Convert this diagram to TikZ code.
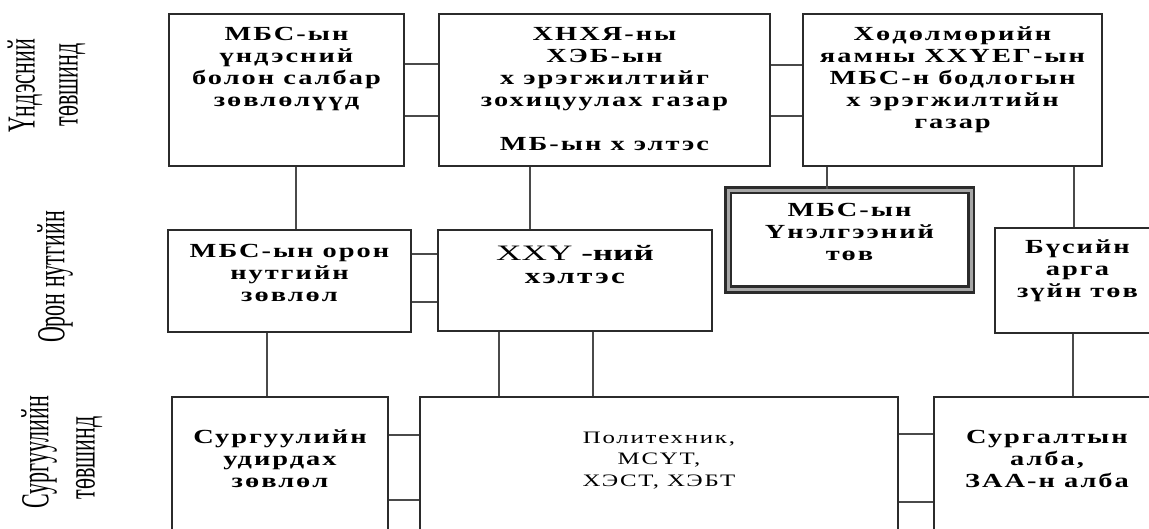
\documentclass[tikz,border=0pt]{standalone}
\usepackage{fontspec}
\newfontfamily\bxfont{Liberation Serif}[FakeStretch=1.42,LetterSpace=10]
\newfontfamily\bxfontn{Liberation Serif}[FakeStretch=1.6]
\newfontfamily\lblfont{Liberation Serif}
\newcommand\bxt[4]{\parbox[c][#2pt][t]{#1pt}{\centering\rule{0pt}{#3pt}#4\par}}
\definecolor{edge}{HTML}{2B2B2B}
\definecolor{conn}{HTML}{4A4A4A}
\tikzset{
  box/.style={draw=edge, line width=2pt, inner sep=0pt, fill=white,
    font=\bxfont\bfseries\fontsize{20}{22}\selectfont},
  dbox/.style={draw=edge, line width=2.6pt, double=gray!70, double distance=3pt,
    inner sep=0pt, fill=white, font=\bxfont\bfseries\fontsize{20}{22}\selectfont},
  lbl/.style={rotate=90, inner sep=0pt, font=\lblfont\fontsize{22}{24}\selectfont},
  cn/.style={draw=conn, line width=1.8pt}
}
\begin{document}
\begin{tikzpicture}[x=1pt,y=-1pt]
\useasboundingbox (0,0) rectangle (1149,528);
\clip (0,0) rectangle (1149,528);
\fill[white] (0,0) rectangle (1149,528);
% level labels
\node[lbl] (l1a) at (25,86) {\scalebox{1}[1.8]{Үндэсний}};
\node[lbl] (l1b) at (72,85) {\scalebox{1}[1.8]{төвшинд}};
\node[lbl] (l2) at (55,277) {\scalebox{1}[1.8]{Орон нутгийн}};
\node[lbl] (l3a) at (39,452) {\scalebox{1}[1.8]{Сургуулийн}};
\node[lbl] (l3b) at (89,458) {\scalebox{1}[1.8]{төвшинд}};
% top row
\node[box] (A) at (286.5,90) {\bxt{235}{152}{26}{МБС-ын\\үндэсний\\болон салбар\\зөвлөлүүд}};
\node[box] (B) at (604.5,90) {\bxt{331}{152}{26}{ХНХЯ-ны\\ХЭБ-ын\\х эрэгжилтийг\\зохицуулах газар\\[22pt]МБ-ын х элтэс}};
\node[box] (C) at (952.5,90) {\bxt{299}{152}{26}{Хөдөлмөрийн\\яамны ХХҮЕГ-ын\\МБС-н бодлогын\\х эрэгжилтийн\\газар}};
% middle row
\node[box] (D) at (289.5,281) {\bxt{243}{102}{27}{МБС-ын орон\\нутгийн\\зөвлөл}};
\node[box] (E) at (575,280.5) {\bxt{274}{101}{30}{{\bxfontn\fontsize{22}{26}\selectfont\mdseries ХХҮ \bfseries-ний}\\[1pt]{\fontsize{22}{24}\selectfont хэлтэс}}};
\node[dbox] (U) at (849.5,239.75) {\bxt{243}{99.5}{26}{МБС-ын\\Үнэлгээний\\төв}};
\node[box] (F) at (1077.5,280.5) {\bxt{165}{105}{25}{Бүсийн\\арга\\зүйн төв}};
% bottom row
\node[box] (G) at (280,478.5) {\bxt{216}{163}{46}{Сургуулийн\\удирдах\\зөвлөл}};
\node[box] (H) at (659,478.5) {\bxt{478}{163}{46}{\mdseries\fontsize{17.5}{21.5}\selectfont Политехник,\\МСҮТ,\\ХЭСТ, ХЭБТ}};
\node[box] (I) at (1047,478.5) {\bxt{226}{163}{46}{Сургалтын\\алба,\\ЗАА-н алба}};
% horizontal connectors
\draw[cn] (A.east |- 0,64) -- (B.west |- 0,64);
\draw[cn] (A.east |- 0,116) -- (B.west |- 0,116);
\draw[cn] (B.east |- 0,65) -- (C.west |- 0,65);
\draw[cn] (B.east |- 0,116) -- (C.west |- 0,116);
\draw[cn] (D.east |- 0,254) -- (E.west |- 0,254);
\draw[cn] (D.east |- 0,302) -- (E.west |- 0,302);
\draw[cn] (G.east |- 0,435) -- (H.west |- 0,435);
\draw[cn] (G.east |- 0,500) -- (H.west |- 0,500);
\draw[cn] (H.east |- 0,434) -- (I.west |- 0,434);
\draw[cn] (H.east |- 0,502) -- (I.west |- 0,502);
% vertical connectors
\draw[cn] (A.south -| 296,0) -- (D.north -| 296,0);
\draw[cn] (B.south -| 530,0) -- (E.north -| 530,0);
\draw[cn] (C.south -| 827,0) -- (U.north -| 827,0);
\draw[cn] (C.south -| 1074,0) -- (F.north -| 1074,0);
\draw[cn] (D.south -| 267,0) -- (G.north -| 267,0);
\draw[cn] (E.south -| 499,0) -- (H.north -| 499,0);
\draw[cn] (E.south -| 593,0) -- (H.north -| 593,0);
\draw[cn] (F.south -| 1073,0) -- (I.north -| 1073,0);
\end{tikzpicture}
\end{document}
